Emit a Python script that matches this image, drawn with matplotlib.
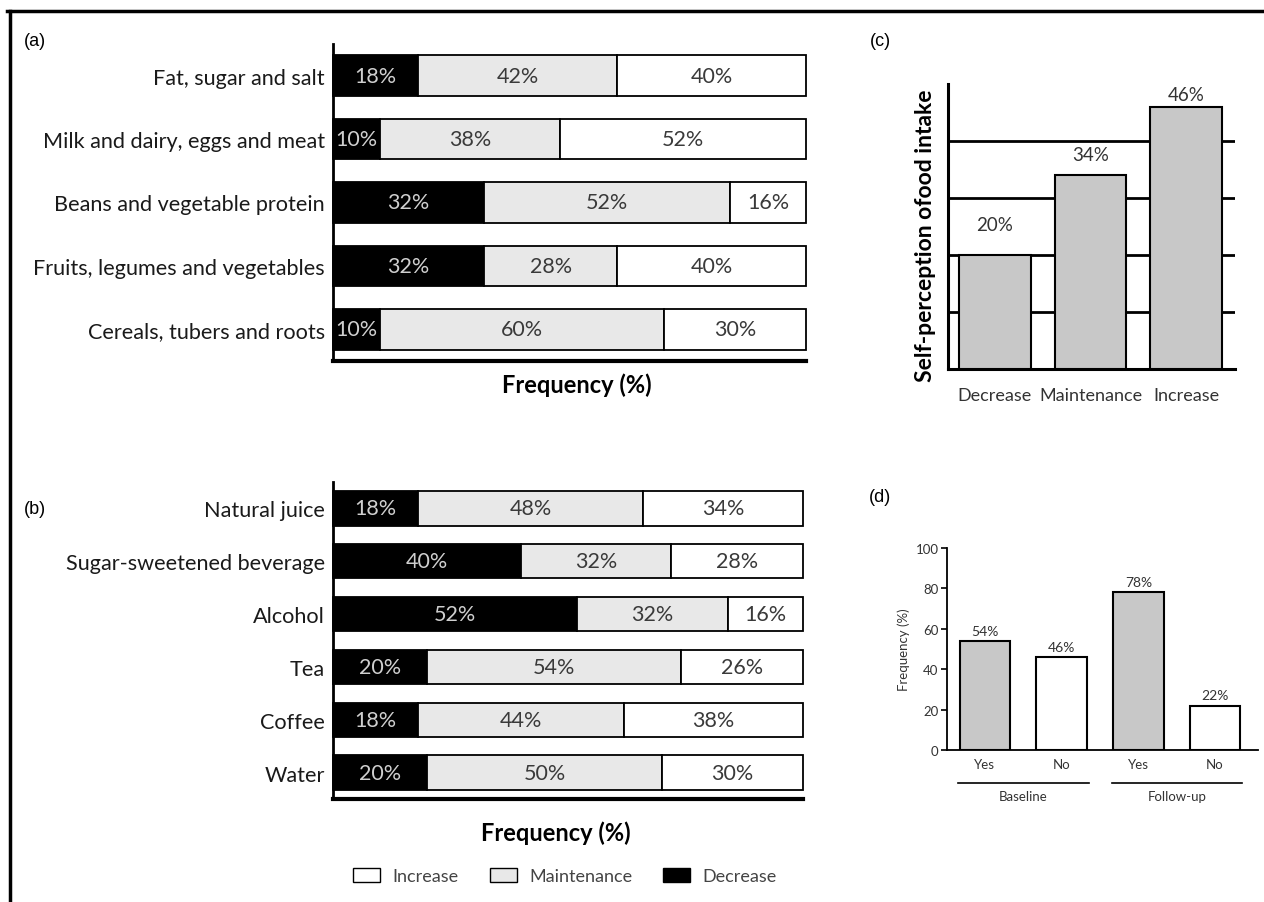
import numpy as np
import matplotlib
matplotlib.use('Agg')
import matplotlib.pyplot as plt
from matplotlib.lines import Line2D
from matplotlib.patches import Patch
from matplotlib.transforms import blended_transform_factory

plt.rcParams['font.family'] = ['Lato', 'DejaVu Sans']

# (a) food groups
food_groups = ['Fat, sugar and salt', 'Milk and dairy, eggs and meat',
               'Beans and vegetable protein', 'Fruits, legumes and vegetables',
               'Cereals, tubers and roots']
food_decrease = [18, 10, 32, 32, 10]
food_maintenance = [42, 38, 52, 28, 60]
food_increase = [40, 52, 16, 40, 30]

# (b) beverages
drinks = ['Natural juice', 'Sugar-sweetened beverage', 'Alcohol', 'Tea', 'Coffee', 'Water']
drink_decrease = [18, 40, 52, 20, 18, 20]
drink_maintenance = [48, 32, 32, 54, 44, 50]
drink_increase = [34, 28, 16, 26, 38, 30]

# (c) self-perception of food intake
intake_labels = ['Decrease', 'Maintenance', 'Increase']
intake_values = [20, 34, 46]

# (d) yes / no at baseline and follow-up
answer_labels = ['Yes', 'No', 'Yes', 'No']
answer_values = [54, 46, 78, 22]
periods = ['Baseline', 'Follow-up']

W, H = 1264, 903
fig = plt.figure(figsize=(W / 100, H / 100), dpi=100)


def box(x0, y_top, x1, y_bottom):
    # pixel box -> figure fraction rect
    return [x0 / W, 1 - y_bottom / H, (x1 - x0) / W, (y_bottom - y_top) / H]


def stacked(ax, labels, dec, mai, inc, height, xlabel_x, xlabel_y):
    y = np.arange(len(labels))
    segs = [(dec, 'black', '#cfcfcf'), (mai, '#e8e8e8', '#3a3a3a'), (inc, 'white', '#3a3a3a')]
    left = np.zeros(len(labels))
    for vals, fc, tc in segs:
        vals = np.array(vals, dtype=float)
        ax.barh(y, vals, left=left, height=height, color=fc, edgecolor='black',
                linewidth=1.3, clip_on=False)
        for yi, l, v in zip(y, left, vals):
            ax.text(l + v / 2, yi, f'{v:.0f}%', ha='center', va='center', color=tc, fontsize=15.5)
        left += vals
    ax.set_yticks(y, labels)
    ax.set_ylim(len(labels) - 0.5, -0.5)
    ax.set_xlim(0, 100)
    ax.set_xticks([])
    ax.tick_params(axis='y', length=0, pad=6, labelsize=15.6, labelcolor='#1a1a1a')
    ax.spines['top'].set_visible(False)
    ax.spines['right'].set_visible(False)
    ax.spines['left'].set_linewidth(2)
    ax.spines['bottom'].set_linewidth(3)
    ax.set_xlabel('Frequency (%)', fontweight='bold', fontsize=17, va='center')
    ax.xaxis.set_label_coords(xlabel_x, xlabel_y)


# panel (a)
ax_a = fig.add_axes(box(333, 45, 806, 362))
stacked(ax_a, food_groups, food_decrease, food_maintenance, food_increase, 0.64,
        (577 - 333) / 473, -(385 - 362) / 317)

# panel (b)
ax_b = fig.add_axes(box(333, 483, 803, 800))
stacked(ax_b, drinks, drink_decrease, drink_maintenance, drink_increase, 0.65,
        (556 - 333) / 470, -(833 - 800) / 317)

# panel (c)
ax_c = fig.add_axes(box(948, 85, 1235, 370))
xc = np.arange(len(intake_values))
ax_c.bar(xc, intake_values, width=0.75, color='#c8c8c8', edgecolor='black', linewidth=1.5, zorder=3)
label_pad = [5.3, 3.7, 2.2]
for x, v, p in zip(xc, intake_values, label_pad):
    ax_c.text(x, v + p, f'{v}%', ha='center', va='center', fontsize=13.5, color='#333333')
ax_c.set_ylim(0, 50)
ax_c.set_xlim(-0.49, 2.51)
ax_c.set_yticks([10, 20, 30, 40])
ax_c.set_yticklabels([])
ax_c.yaxis.grid(True, color='black', linewidth=2)
ax_c.set_axisbelow(True)
ax_c.tick_params(axis='both', length=0)
ax_c.set_xticks(xc, intake_labels)
ax_c.tick_params(axis='x', labelsize=13, labelcolor='#333333', pad=13)
ax_c.spines['top'].set_visible(False)
ax_c.spines['right'].set_visible(False)
ax_c.spines['left'].set_linewidth(2.2)
ax_c.spines['bottom'].set_linewidth(2.2)
ax_c.set_ylabel('Self-perception ofood intake', fontweight='bold', fontsize=16.5,
                va='center')
ax_c.yaxis.set_label_coords(-(948 - 925) / 287, (370 - 236) / 285)

# panel (d)
ax_d = fig.add_axes(box(947, 549, 1258, 751))
xd = np.arange(len(answer_values))
colors_d = ['#c8c8c8', 'white', '#c8c8c8', 'white']
ax_d.bar(xd, answer_values, width=0.66, color=colors_d, edgecolor='black', linewidth=1.5)
for x, v in zip(xd, answer_values):
    ax_d.annotate(f'{v}%', (x, v), xytext=(0, 3), textcoords='offset points',
                  ha='center', va='bottom', fontsize=10, color='#333333')
ax_d.set_ylim(0, 100)
ax_d.set_xlim(-0.495, 3.56)
ax_d.set_yticks(range(0, 101, 20))
ax_d.tick_params(axis='y', length=4, width=1.2, labelsize=9.5, labelcolor='#333333', pad=2)
ax_d.set_xticks(xd, answer_labels)
ax_d.tick_params(axis='x', length=0, labelsize=9.5, labelcolor='#333333', pad=6)
ax_d.spines['top'].set_visible(False)
ax_d.spines['right'].set_visible(False)
ax_d.spines['left'].set_linewidth(1.3)
ax_d.spines['bottom'].set_linewidth(1.3)
ax_d.spines['left'].set_bounds(0, 100)
ax_d.set_ylabel('Frequency (%)', fontsize=9.5, color='#333333', labelpad=4)
trans = blended_transform_factory(ax_d.transData, ax_d.transAxes)
for g, name in enumerate(periods):
    x0, x1 = 2 * g - 0.35, 2 * g + 1 + 0.35
    ax_d.plot([x0, x1], [-0.163, -0.163], color='black', linewidth=1.2, transform=trans, clip_on=False)
    ax_d.text(2 * g + 0.5, -0.228, name, transform=trans, ha='center', va='center',
              fontsize=9.5, color='#333333')

# panel letters
for letter, px, py in [('(a)', 35, 42), ('(b)', 35, 510), ('(c)', 880, 42), ('(d)', 880, 498)]:
    fig.text(px / W, 1 - py / H, letter, fontsize=13, family=['Liberation Sans'], va='center', ha='center')

# legend
handles = [Patch(facecolor='white', edgecolor='black', label='Increase'),
           Patch(facecolor='#e8e8e8', edgecolor='black', label='Maintenance'),
           Patch(facecolor='black', edgecolor='black', label='Decrease')]
fig.legend(handles=handles, loc='center', bbox_to_anchor=(565 / W, 1 - 877 / H), ncol=3,
           frameon=False, fontsize=13, labelcolor='#444444', handlelength=1.5,
           handleheight=0.8, columnspacing=1.7, handletextpad=0.7)

# outer frame (top and left edges)
fig.add_artist(Line2D([7 / W, 1], [1 - 12 / H, 1 - 12 / H], color='black', linewidth=2.5))
fig.add_artist(Line2D([10 / W, 10 / W], [1 - 12 / H, 0], color='black', linewidth=2.5))

fig.savefig('out.png', dpi=100)
